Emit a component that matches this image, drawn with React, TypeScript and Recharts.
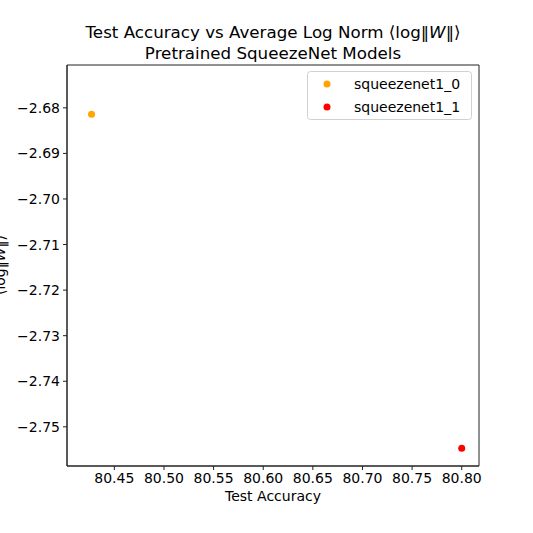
import React from 'react';
import { ScatterChart, Scatter, XAxis, YAxis, ReferenceArea, Customized } from 'recharts';

const modelNames = ['squeezenet1_0', 'squeezenet1_1'];
const modelColors = ['#FFA500', '#FF0000'];
const testAccuracy = [80.427, 80.8];
const avgLogNorm = [-2.6814, -2.7547];
const xTicks = [80.45, 80.5, 80.55, 80.6, 80.65, 80.7, 80.75, 80.8];
const yTicks = [-2.68, -2.69, -2.7, -2.71, -2.72, -2.73, -2.74, -2.75];
const xDomain = [80.4023, 80.8174];
const yDomain = [-2.7586, -2.6706];

const FONT = 'DejaVu Sans, sans-serif';

const series = modelNames.map((name, i) => ({
  name,
  color: modelColors[i],
  data: [{ x: testAccuracy[i], y: avgLogNorm[i] }],
}));

const Overlay = () => (
  <g>
    <text x={273} y={38} textAnchor="middle" fontFamily={FONT} fontSize={16.7} fill="#000">
      Test Accuracy vs Average Log Norm ⟨log‖<tspan fontStyle="italic">W</tspan>‖⟩
    </text>
    <text x={273} y={59} textAnchor="middle" fontFamily={FONT} fontSize={16.7} fill="#000">
      Pretrained SqueezeNet Models
    </text>
    <text
      x={0}
      y={0}
      transform="translate(5,265) rotate(-90)"
      textAnchor="middle"
      fontFamily={FONT}
      fontSize={14}
      fill="#000"
    >
      ⟨log‖<tspan fontStyle="italic">W</tspan>‖⟩
    </text>
    <g>
      <rect x={307.5} y={71.5} width={164} height={48} rx={3} ry={3} fill="#fff" fillOpacity={0.8} stroke="#d0d0d0" />
      {series.map((s, i) => (
        <g key={s.name}>
          <circle cx={327} cy={84 + i * 23} r={3.5} fill={s.color} />
          <text x={354} y={89 + i * 23} fontFamily={FONT} fontSize={14} fill="#000">
            {s.name}
          </text>
        </g>
      ))}
    </g>
  </g>
);

export default function App() {
  return (
    <div style={{ position: 'absolute', left: 0, top: 0, width: 533, height: 533, background: '#fff' }}>
      <ScatterChart width={533} height={533} margin={{ top: 65, right: 54, bottom: 27, left: 0 }}>
        <XAxis
          type="number"
          dataKey="x"
          domain={xDomain}
          ticks={xTicks}
          allowDataOverflow
          tickFormatter={(v: number) => v.toFixed(2)}
          height={40}
          tickSize={4}
          tickMargin={3}
          axisLine={{ stroke: '#222', strokeWidth: 1 }}
          tickLine={{ stroke: '#222' }}
          tick={{ fill: '#000', fontFamily: FONT, fontSize: 14 }}
          label={{ value: 'Test Accuracy', position: 'insideBottom', offset: 5, fill: '#000', fontFamily: FONT, fontSize: 14 }}
        />
        <YAxis
          type="number"
          dataKey="y"
          domain={yDomain}
          ticks={yTicks}
          allowDataOverflow
          tickFormatter={(v: number) => v.toFixed(2).replace('-', '\u2212')}
          width={67}
          tickSize={4}
          tickMargin={3}
          axisLine={{ stroke: '#222', strokeWidth: 1 }}
          tickLine={{ stroke: '#222' }}
          tick={{ fill: '#000', fontFamily: FONT, fontSize: 14 }}
        />
        <ReferenceArea
          x1={xDomain[0]}
          x2={xDomain[1]}
          y1={yDomain[0]}
          y2={yDomain[1]}
          fill="none"
          fillOpacity={0}
          stroke="#222"
          strokeWidth={1}
          ifOverflow="visible"
        />
        {series.map((s) => (
          <Scatter
            key={s.name}
            name={s.name}
            data={s.data}
            fill={s.color}
            isAnimationActive={false}
            shape={(p: any) => <circle cx={p.cx} cy={p.cy} r={3.5} fill={s.color} />}
          />
        ))}
        <Customized component={Overlay} />
      </ScatterChart>
    </div>
  );
}
